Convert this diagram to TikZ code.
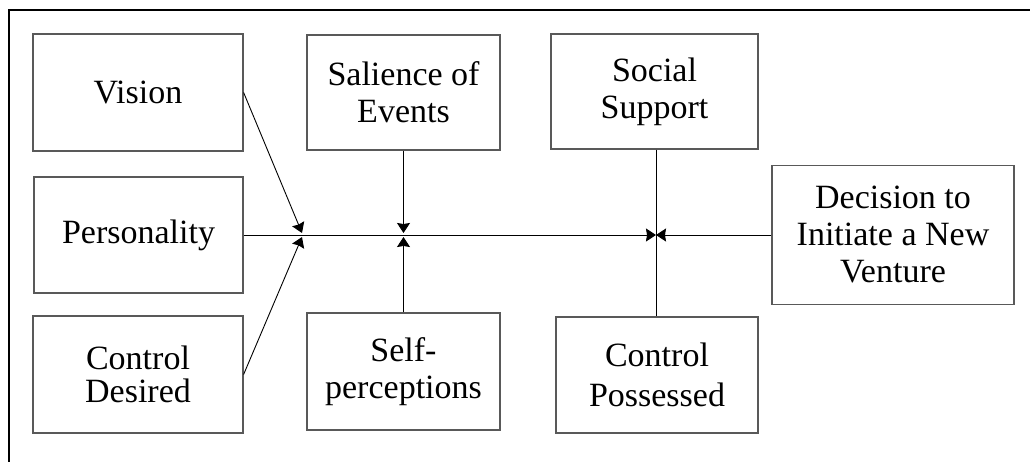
\documentclass[tikz,border=0pt]{standalone}
\usepackage{fontspec}
\setmainfont{Liberation Serif}
\usetikzlibrary{arrows.meta}
\begin{document}
\begin{tikzpicture}[x=1pt,y=-1pt,
  box/.style={draw=black!65, line width=1.2pt, fill=white, align=center,
    inner sep=0pt, font=\fontsize{34}{37}\selectfont},
  link/.style={draw=black, line width=0.9pt},
  arr/.style={link, -{Stealth[length=10pt,width=13pt,inset=1pt]}}]
\useasboundingbox (0,0) rectangle (1030,462);
% outer frame (left and top edges)
\draw[line width=1.4pt] (9,462) -- (9,10) -- (1030,10);

% factor boxes
\node[box, minimum width=210pt, minimum height=117pt] (vis) at (138,92.5) {Vision};
\node[box, minimum width=209pt, minimum height=116pt] (per) at (138.5,235) {Personality};
\node[box, minimum width=210pt, minimum height=117pt,
  font=\fontsize{34}{33}\selectfont] (cd) at (138,374.5) {Control\\Desired};
\node[box, minimum width=193pt, minimum height=115pt] (sal) at (403.5,92.5) {Salience of\\Events};
\node[box, minimum width=193pt, minimum height=117pt] (sp) at (403.5,371.5) {Self-\\perceptions};
\node[box, minimum width=207pt, minimum height=115pt] (ss) at (654.5,91.5) {Social\\Support};
\node[box, minimum width=202pt, minimum height=116pt,
  font=\fontsize{34}{40}\selectfont] (cp) at (657,375) {Control\\Possessed};
\node[box, minimum width=242pt, minimum height=139pt] (dec) at (893,235) {Decision to\\Initiate a New\\Venture};

% junction points on the main line
\coordinate (jv) at (302,233);
\coordinate (jc) at (302,237);
\coordinate (js) at (403.5,233);
\coordinate (jp) at (403.5,237);
\coordinate (J) at (656,235);

% connectors
\draw[arr] (vis.east) -- (jv);
\draw[arr] (cd.east) -- (jc);
\draw[arr] (sal.south) -- (js);
\draw[arr] (sp.north) -- (jp);
\draw[arr] (per.east) -- (J);
\draw[arr] (dec.west) -- (J);
\draw[link] (J |- ss.south) -- (J |- cp.north);
\end{tikzpicture}
\end{document}
